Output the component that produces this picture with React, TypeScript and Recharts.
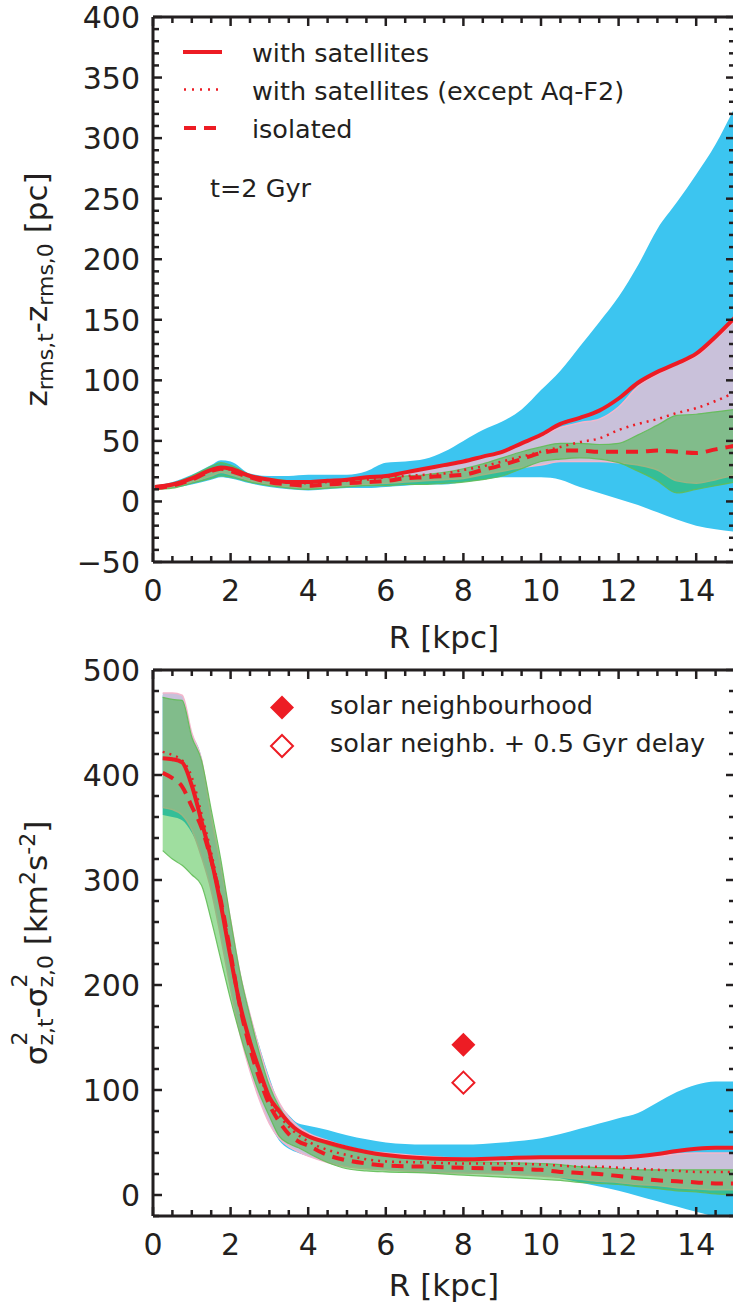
import React from 'react';
import { ComposedChart, Area, Line, Scatter, XAxis, YAxis, Legend } from 'recharts';

const INK = '#231f20';
const RED = '#ed1c24';
const BLUE = '#3cc5f0';
const LAVENDER = '#c9c1da';
const PINK = '#f4b6cc';
const GREEN = '#2ab52a';
const FONT = '"DejaVu Sans", Verdana, sans-serif';
const W = 745;

// ticks
const xTicks = [0, 0.5, 1, 1.5, 2, 2.5, 3, 3.5, 4, 4.5, 5, 5.5, 6, 6.5, 7, 7.5, 8, 8.5, 9, 9.5, 10, 10.5, 11, 11.5, 12, 12.5, 13, 13.5, 14, 14.5, 15];
const topYTicks = [-50, -40, -30, -20, -10, 0, 10, 20, 30, 40, 50, 60, 70, 80, 90, 100, 110, 120, 130, 140, 150, 160, 170, 180, 190, 200, 210, 220, 230, 240, 250, 260, 270, 280, 290, 300, 310, 320, 330, 340, 350, 360, 370, 380, 390, 400];
const botYTicks = [-20, 0, 20, 40, 60, 80, 100, 120, 140, 160, 180, 200, 220, 240, 260, 280, 300, 320, 340, 360, 380, 400, 420, 440, 460, 480, 500];

// top panel: z_rms growth [pc]
const topR = [0.05, 0.5, 1, 1.5, 1.75, 2, 2.5, 3, 3.5, 4, 4.5, 5, 5.5, 6, 6.5, 7, 7.5, 8, 8.5, 9, 9.5, 10, 10.5, 11, 11.5, 12, 12.5, 13, 13.5, 14, 14.5, 15];
const zSat = [12, 14, 19, 26, 28, 27, 21, 18, 16, 16, 17, 18, 20, 21, 24, 27, 30, 33, 37, 41, 48, 55, 64, 69, 75, 85, 98, 107, 114, 122, 136, 152];
const zSatNoF2 = [12, 14, 19, 26, 28, 26, 21, 18, 16, 15, 16, 17, 18, 20, 21, 22, 23, 26, 29, 33, 37, 41, 45, 49, 52, 59, 64, 68, 73, 77, 83, 90];
const zIso = [11, 13, 18, 25, 27, 25, 20, 16, 14, 13, 14, 15, 16, 17, 19, 20, 21, 22, 26, 30, 35, 40, 42, 42, 41, 41, 41, 42, 41, 40, 43, 46];
const zBlueHi = [13, 16, 22, 30, 34, 33, 23, 21, 21, 22, 22, 22, 25, 32, 33, 35, 41, 50, 59, 66, 76, 92, 108, 128, 148, 169, 195, 225, 247, 270, 295, 326];
const zBlueLo = [10, 11, 14, 18, 20, 19, 15, 12, 10, 9, 10, 11, 11, 12, 13, 14, 14, 16, 18, 20, 20, 20, 18, 12, 7, 2, -3, -9, -15, -20, -23, -25];
const zLavHi = [12, 14, 19, 26, 28, 26, 21, 18, 16, 15, 16, 17, 19, 21, 24, 27, 30, 33, 37, 41, 47, 54, 61, 65, 68, 78, 95, 105, 113, 120, 134, 150];
const zLavLo = [10, 12, 16, 21, 24, 22, 17, 14, 12, 11, 12, 13, 14, 15, 16, 17, 18, 19, 22, 25, 28, 30, 33, 33, 33, 32, 30, 26, 17, 15, 18, 22];
const zGreenHi = [13, 15, 21, 29, 32, 30, 22, 19, 17, 16, 17, 18, 19, 20, 21, 22, 24, 27, 31, 36, 41, 45, 48, 48, 47, 48, 55, 63, 71, 72, 74, 76];
const zGreenLo = [10, 11, 15, 19, 21, 20, 16, 13, 11, 10, 11, 12, 13, 13, 14, 14, 15, 16, 18, 21, 27, 33, 35, 36, 35, 32, 25, 17, 7, 10, 13, 16];

// bottom panel: sigma_z^2 growth [km^2 s^-2]
const botR = [0.25, 0.5, 0.75, 1, 1.25, 1.5, 1.75, 2, 2.25, 2.5, 2.75, 3, 3.25, 3.5, 3.75, 4, 4.5, 5, 5.5, 6, 7, 8, 9, 10, 10.5, 11, 11.5, 12, 12.5, 13, 13.5, 14, 14.5, 15];
const sSat = [416, 415, 412, 390, 356, 320, 276, 226, 180, 146, 118, 93, 80, 69, 61, 56, 50, 45, 41, 38, 35, 34, 35, 36, 36, 36, 36, 36, 37, 39, 42, 44, 45, 45];
const sSatNoF2 = [422, 419, 414, 398, 363, 326, 281, 229, 180, 145, 115, 90, 76, 65, 57, 51, 43, 38, 34, 32, 31, 30, 30, 29, 28, 27, 27, 26, 25, 24, 23, 22, 22, 22];
const sIso = [402, 397, 389, 370, 350, 319, 280, 230, 178, 140, 110, 86, 70, 58, 51, 47, 38, 33, 30, 28, 27, 26, 25, 24, 22, 21, 20, 18, 16, 14, 13, 12, 11, 11];
const sBlueHi = [476, 476, 474, 440, 417, 357, 312, 262, 212, 173, 141, 112, 88, 76, 68, 66, 62, 57, 53, 50, 48, 48, 50, 54, 58, 63, 68, 73, 78, 88, 98, 105, 108, 108];
const sBlueLo = [362, 360, 357, 345, 325, 296, 252, 200, 155, 118, 90, 68, 52, 44, 40, 37, 32, 29, 27, 26, 24, 23, 21, 19, 16, 12, 8, 4, -1, -6, -11, -16, -21, -26];
const sLavHi = [478, 478, 476, 440, 415, 360, 312, 262, 210, 172, 138, 108, 88, 74, 65, 59, 52, 46, 42, 40, 37, 35, 35, 35, 34, 34, 34, 35, 36, 37, 39, 40, 40, 40];
const sLavLo = [369, 367, 362, 348, 322, 290, 245, 196, 152, 118, 90, 68, 54, 46, 41, 37, 31, 27, 25, 24, 22, 21, 20, 18, 17, 15, 13, 12, 10, 9, 7, 6, 5, 5];
const sGreenHi = [474, 472, 471, 436, 414, 367, 319, 262, 210, 170, 134, 104, 84, 70, 61, 55, 48, 43, 40, 37, 34, 32, 31, 30, 29, 27, 26, 25, 24, 24, 24, 24, 24, 24];
const sGreenLo = [328, 320, 314, 305, 295, 262, 224, 186, 152, 122, 96, 75, 56, 49, 45, 40, 31, 25, 23, 22, 21, 19, 17, 15, 14, 12, 11, 10, 8, 6, 4, 3, 1, 0];

// solar neighbourhood points
const solarR = [8];
const solarV = [143];
const solarDelayV = [107];

const topRows = topR.map((R, i) => ({
  R,
  sat: zSat[i],
  noF2: zSatNoF2[i],
  iso: zIso[i],
  blue: [zBlueLo[i], zBlueHi[i]],
  lav: [zLavLo[i], zLavHi[i]],
  green: [zGreenLo[i], zGreenHi[i]],
}));

const botRows = botR.map((R, i) => ({
  R,
  sat: sSat[i],
  noF2: sSatNoF2[i],
  iso: sIso[i],
  blue: [sBlueLo[i], sBlueHi[i]],
  lav: [sLavLo[i], sLavHi[i]],
  green: [sGreenLo[i], sGreenHi[i]],
}));

const solarPts = solarR.map((R, i) => ({ R, v: solarV[i] }));
const solarDelayPts = solarR.map((R, i) => ({ R, v: solarDelayV[i] }));

const isMajor = (v: number, step: number) => Math.abs(v / step - Math.round(v / step)) < 1e-6;
const fmt = (v: number) => (v < 0 ? `\u2212${-v}` : `${v}`);

const XTick = ({ x, y, payload, side }: any) => {
  const major = isMajor(payload.value, 2);
  const len = major ? 9 : 6;
  const dir = side === 'top' ? 1 : -1;
  return (
    <g>
      <line x1={x} x2={x} y1={y} y2={y + dir * len} stroke={INK} strokeWidth={2.5} />
      {side === 'bottom' && major && (
        <text x={x} y={y + 38.5} textAnchor="middle" fontSize={30} fontFamily={FONT} fill={INK}>
          {fmt(payload.value)}
        </text>
      )}
    </g>
  );
};

const YTick = ({ x, y, payload, side, step }: any) => {
  const major = isMajor(payload.value, step);
  const len = major ? 9 : 6;
  const dir = side === 'left' ? 1 : -1;
  return (
    <g>
      <line x1={x} x2={x + dir * len} y1={y} y2={y} stroke={INK} strokeWidth={2.5} />
      {side === 'left' && major && (
        <text x={x - 13} y={y + 11} textAnchor="end" fontSize={30} fontFamily={FONT} fill={INK}>
          {fmt(payload.value)}
        </text>
      )}
    </g>
  );
};

const XTitle = ({ baseline }: any) => (
  <text x={444} y={baseline} textAnchor="middle" fontSize={31} fontFamily={FONT} fill={INK}>
    R [kpc]
  </text>
);

const ZTitle = ({ viewBox }: any) => {
  const cy = viewBox.y + viewBox.height / 2;
  return (
    <text x={47} y={cy} transform={`rotate(-90, 47, ${cy})`} textAnchor="middle" fontSize={31} fontFamily={FONT} fill={INK}>
      z<tspan fontSize={22} dy={6}>rms,t</tspan>
      <tspan dy={-6}>-z</tspan>
      <tspan fontSize={22} dy={6}>rms,0</tspan>
      <tspan dy={-6}> [pc]</tspan>
    </text>
  );
};

const SigmaTitle = ({ viewBox }: any) => {
  const cy = viewBox.y + viewBox.height / 2;
  return (
    <text x={47} y={cy} transform={`rotate(-90, 47, ${cy})`} textAnchor="middle" fontSize={31} fontFamily={FONT} fill={INK}>
      σ<tspan fontSize={22} dy={-20}>2</tspan>
      <tspan fontSize={22} dx={-14} dy={26}>z,t</tspan>
      <tspan dy={-6}>-σ</tspan>
      <tspan fontSize={22} dy={-20}>2</tspan>
      <tspan fontSize={22} dx={-14} dy={26}>z,0</tspan>
      <tspan dy={-6}> [km</tspan>
      <tspan fontSize={22} dy={-12}>2</tspan>
      <tspan dy={12}>s</tspan>
      <tspan fontSize={22} dy={-12}>-2</tspan>
      <tspan dy={12}>]</tspan>
    </text>
  );
};

const txt = { fontSize: 25.5, fontFamily: FONT, fill: INK } as const;

const TopLegend = () => (
  <svg width={W} height={220} style={{ display: 'block' }}>
    <line x1={183} x2={222} y1={52} y2={52} stroke={RED} strokeWidth={4} />
    <text x={252} y={61.5} {...txt}>with satellites</text>
    <line x1={184} x2={222} y1={89.5} y2={89.5} stroke={RED} strokeWidth={2.5} strokeDasharray="2 6" />
    <text x={252} y={99.5} {...txt}>with satellites (except Aq-F2)</text>
    <line x1={184} x2={222} y1={128} y2={128} stroke={RED} strokeWidth={4} strokeDasharray="12 8" />
    <text x={252} y={137.5} {...txt}>isolated</text>
    <text x={210} y={197} {...txt}>t=2 Gyr</text>
  </svg>
);

const diamond = (cx: number, cy: number, r: number) =>
  `M${cx},${cy - r}L${cx + r},${cy}L${cx},${cy + r}L${cx - r},${cy}Z`;

const BotLegend = () => (
  <svg width={W} height={140} style={{ display: 'block' }}>
    <path d={diamond(282, 67.5, 12)} fill={RED} />
    <text x={330} y={74} {...txt}>solar neighbourhood</text>
    <path d={diamond(282, 106, 11)} fill="#fff" stroke={RED} strokeWidth={2} />
    <text x={330} y={112} {...txt}>solar neighb. + 0.5 Gyr delay</text>
  </svg>
);

type PanelProps = {
  rows: any[];
  height: number;
  topH: number;
  bottomH: number;
  yDomain: [number, number];
  yTicks: number[];
  yStep: number;
  title: React.ReactElement;
  titleBaseline: number;
  legend: () => React.ReactElement;
  legendH: number;
  children?: React.ReactNode;
};

const Panel = ({ rows, height, topH, bottomH, yDomain, yTicks, yStep, title, titleBaseline, legend, legendH, children }: PanelProps) => (
  <ComposedChart width={W} height={height} data={rows} margin={{ top: 0, right: 0, bottom: 0, left: 0 }}>
    <Area dataKey="blue" type="monotone" fill={BLUE} fillOpacity={1} stroke="none" isAnimationActive={false} legendType="none" />
    <Area dataKey="lav" type="monotone" fill={LAVENDER} fillOpacity={1} stroke={PINK} strokeWidth={1.5} isAnimationActive={false} legendType="none" />
    <Area dataKey="green" type="monotone" fill={GREEN} fillOpacity={0.45} stroke="#62bd57" strokeWidth={1.2} strokeOpacity={0.9} isAnimationActive={false} legendType="none" />
    <Line dataKey="iso" name="isolated" type="monotone" stroke={RED} strokeWidth={4} strokeDasharray="12 8" dot={false} activeDot={false} isAnimationActive={false} />
    <Line dataKey="noF2" name="with satellites (except Aq-F2)" type="monotone" stroke={RED} strokeWidth={2.5} strokeDasharray="2 5" dot={false} activeDot={false} isAnimationActive={false} />
    <Line dataKey="sat" name="with satellites" type="monotone" stroke={RED} strokeWidth={4} dot={false} activeDot={false} isAnimationActive={false} />
    {children}
    <XAxis
      dataKey="R"
      type="number"
      domain={[0, 15]}
      ticks={xTicks}
      interval={0}
      height={bottomH}
      tickSize={0}
      tickMargin={0}
      tickLine={false}
      axisLine={{ stroke: INK, strokeWidth: 3 }}
      tick={(p: any) => <XTick {...p} side="bottom" />}
      label={<XTitle baseline={titleBaseline} />}
    />
    <XAxis
      xAxisId="top"
      orientation="top"
      dataKey="R"
      type="number"
      domain={[0, 15]}
      ticks={xTicks}
      interval={0}
      height={topH}
      tickSize={0}
      tickMargin={0}
      tickLine={false}
      axisLine={{ stroke: INK, strokeWidth: 3 }}
      tick={(p: any) => <XTick {...p} side="top" />}
    />
    <YAxis
      type="number"
      domain={yDomain}
      allowDataOverflow
      ticks={yTicks}
      interval={0}
      width={153}
      tickSize={0}
      tickMargin={0}
      tickLine={false}
      axisLine={{ stroke: INK, strokeWidth: 3 }}
      tick={(p: any) => <YTick {...p} side="left" step={yStep} />}
      label={title}
    />
    <YAxis
      yAxisId="right"
      orientation="right"
      type="number"
      domain={yDomain}
      allowDataOverflow
      ticks={yTicks}
      interval={0}
      width={10}
      tickSize={0}
      tickMargin={0}
      tickLine={false}
      axisLine={false}
      tick={(p: any) => <YTick {...p} side="right" step={yStep} />}
    />
    <Legend
      layout="vertical"
      align="center"
      verticalAlign="middle"
      content={legend}
      wrapperStyle={{ left: 0, top: 0, width: W, height: legendH, pointerEvents: 'none' }}
    />
  </ComposedChart>
);

const App = () => (
  <div style={{ position: 'absolute', left: 0, top: 0, width: 733, height: 1315, overflow: 'hidden', background: '#fff' }}>
    <div style={{ position: 'absolute', left: 0, top: 0 }}>
      <Panel
        rows={topRows}
        height={660}
        topH={17}
        bottomH={98}
        yDomain={[-50, 400]}
        yTicks={topYTicks}
        yStep={50}
        title={<ZTitle />}
        titleBaseline={648}
        legend={TopLegend}
        legendH={220}
      />
    </div>
    <div style={{ position: 'absolute', left: 0, top: 640 }}>
      <Panel
        rows={botRows}
        height={675}
        topH={30}
        bottomH={99}
        yDomain={[-20, 500]}
        yTicks={botYTicks}
        yStep={100}
        title={<SigmaTitle />}
        titleBaseline={656}
        legend={BotLegend}
        legendH={140}
      >
        <Scatter
          data={solarPts}
          dataKey="v"
          name="solar neighbourhood"
          isAnimationActive={false}
          shape={(p: any) => <path d={diamond(p.cx, p.cy, 12)} fill={RED} />}
        />
        <Scatter
          data={solarDelayPts}
          dataKey="v"
          name="solar neighb. + 0.5 Gyr delay"
          isAnimationActive={false}
          shape={(p: any) => <path d={diamond(p.cx, p.cy, 11)} fill="#fff" stroke={RED} strokeWidth={2} />}
        />
      </Panel>
    </div>
  </div>
);

export default App;
